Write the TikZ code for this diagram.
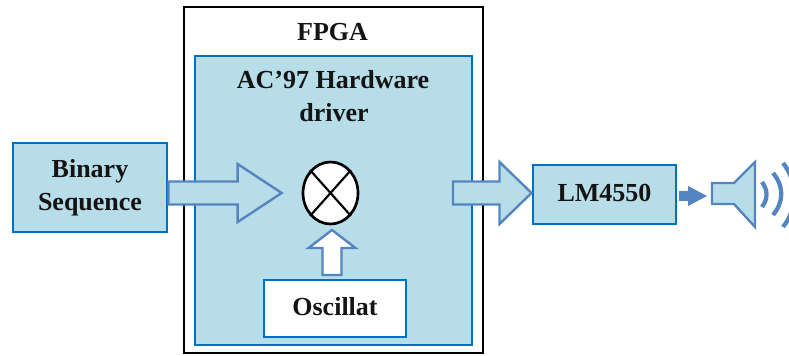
\documentclass[tikz,border=0pt]{standalone}
\usepackage{fontspec}
\setmainfont{Liberation Serif}
\usetikzlibrary{calc,shapes.geometric}
\definecolor{panelfill}{HTML}{B7DDE8}
\definecolor{panelline}{HTML}{0070C0}
\definecolor{arrowline}{HTML}{5585C0}
\def\px{0.75pt}
\tikzset{
  labeltext/.style={font=\fontsize{19.5pt}{24.5pt}\selectfont\bfseries,text=black!92},
  panel/.style={draw=panelline,fill=panelfill,line width=2.2pt,rectangle,inner sep=0pt},
  whitepanel/.style={draw=panelline,fill=white,line width=2.2pt,rectangle,inner sep=0pt},
  outerframe/.style={draw=black,fill=white,line width=2pt,rectangle,inner sep=0pt},
  blockarrow/.style={draw=arrowline,line width=1.8pt,line join=miter,miter limit=6},
  wave/.style={draw=arrowline,line width=3.2pt}
}
% \blockarrow[style]{from}{to}{shaft half width}{head half width}{head length}, sizes in px
\newcommand{\blockarrow}[6][]{%
  \coordinate (hb) at ($(#3)!#6*\px!(#2)$);
  \draw[blockarrow,#1]
    ($(#2)!#4*\px!90:(#3)$) -- ($(hb)!#4*\px!90:(#3)$) -- ($(hb)!#5*\px!90:(#3)$) -- (#3)
    -- ($(hb)!#5*\px!-90:(#3)$) -- ($(hb)!#4*\px!-90:(#3)$) -- ($(#2)!#4*\px!-90:(#3)$) -- cycle;
}
\begin{document}
\begin{tikzpicture}[x=0.75pt,y=-0.75pt]
\useasboundingbox (0,0) rectangle (789,356);
\clip (0,0) rectangle (789,356);
% containers
\node[outerframe,minimum width=299*\px,minimum height=346*\px] (fpga) at (333.5,180) {};
\node[panel,minimum width=277*\px,minimum height=289*\px] (driver) at (333.5,200.5) {};
\node[labeltext,anchor=base] (fpgatitle) at (332.5,41) {FPGA};
\node[labeltext,anchor=base,align=center] (drivertitle) at (333,89) {AC’97 Hardware};
\node[labeltext,anchor=base] (drivertitleb) at (334,122) {driver};
% blocks
\node[panel,labeltext,align=center,minimum width=154*\px,minimum height=89*\px] (binary) at (90,187.5) {Binary\\Sequence};
\node[panel,labeltext,minimum width=143*\px,minimum height=59*\px] (lm) at (604.5,194.5) {\raisebox{3pt}{LM4550}};
\node[whitepanel,labeltext,minimum width=142*\px,minimum height=57*\px] (osc) at (335,308.5) {\raisebox{3pt}{Oscillat}};
% mixer
\node[ellipse,draw=black,fill=white,line width=2pt,minimum width=55*\px,minimum height=62*\px,inner sep=0pt] (mix) at (330.5,193) {};
\draw[black,line width=1.6pt] (mix.north west) -- (mix.south east);
\draw[black,line width=1.6pt] (mix.north east) -- (mix.south west);
% connectors
\coordinate (a1s) at (binary.east |- mix.center);
\coordinate (a1t) at ($(mix.west)+(-20,0)$);
\blockarrow[fill=panelfill]{a1s}{a1t}{11.5}{29}{44}
\coordinate (a2s) at (332,275);
\coordinate (a2t) at (332,230);
\blockarrow[fill=white]{a2s}{a2t}{9.5}{23.5}{18}
\coordinate (a3s) at (453,193);
\coordinate (a3t) at (lm.west |- mix.center);
\blockarrow[fill=panelfill]{a3s}{a3t}{11.5}{31}{32}
% speaker
\coordinate (spk) at (707,196);
\coordinate (a4s) at (679,196);
\fill[arrowline] (a4s) ++(0,-5) -- (688,191) -- (688,186) -- (spk) -- (688,206) -- (688,201) -- (679,201) -- cycle;
\draw[blockarrow,fill=panelfill] (712,183) -- (734,183) -- (755,162) -- (755,227) -- (734,204) -- (712,204) -- cycle;
\draw[wave] (762,182) .. controls (768,190) and (768,199) .. (762,207);
\draw[wave] (773,173) .. controls (784,186) and (784,202) .. (773,215);
\draw[wave] (783,163) .. controls (798,182) and (798,208) .. (783,227);
\end{tikzpicture}
\end{document}
